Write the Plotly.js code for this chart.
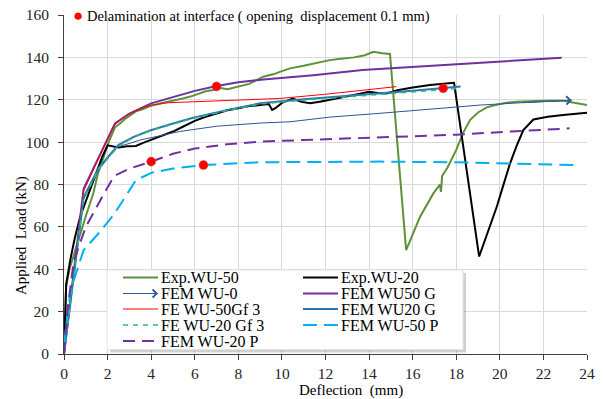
<!DOCTYPE html>
<html>
<head>
<meta charset="utf-8">
<script src="https://cdn.plot.ly/plotly-3.0.1.min.js"></script>
<style>html,body{margin:0;padding:0;background:#fff;}#chart{width:604px;height:399px;}</style>
</head>
<body>
<div id="chart"></div>
<script>
// ---- data (deflection mm, applied load kN) ----
const exp50X = [0,0.05,0.1,0.25,0.45,0.7,0.85,1.0,1.15,1.35,1.55,1.8,2.05,2.34,2.6,2.8,3.1,3.3,3.6,3.95,4.5,5.0,5.4,5.8,6.2,6.5,6.85,7.2,7.5,8.0,8.5,9.15,9.6,10.0,10.37,11.0,11.5,12.2,12.7,13.3,13.8,14.2,14.6,14.96,15.7,16.0,16.34,16.95,17.25,17.3,17.35,17.6,18.0,18.3,18.63,19.0,19.4,19.8,20.3,20.8,21.4,22.0,22.9,23.2,23.6,24.0];
const exp50Y = [0,20,32,40,47,56,60,65,70,76,85,93,100,107,109,111,113,114.5,115.5,117,118.5,119.5,120.5,121.5,123,124,124.6,125.5,125,126.2,127.5,130.9,132,133.5,134.8,136,137,138.7,139.3,140,141,142.6,142,141.6,49,56,64.8,75.8,80,76.5,84,88,96.3,104,110.4,114,116.4,117.5,118.6,119,119.4,119.5,119.5,119,118,117.5];

const exp20X = [0,0.05,0.1,0.3,0.5,0.75,1.0,1.25,1.5,1.75,2.0,2.2,2.5,2.9,3.3,3.6,4.0,4.5,5.0,5.5,6.0,6.5,7.0,7.5,8.0,8.5,9.0,9.4,9.55,9.7,10.0,10.5,10.9,11.3,11.8,12.2,12.8,13.3,14.0,14.4,14.8,15.3,16.0,16.8,17.4,17.9,19.05,19.4,19.86,20.2,20.47,20.8,21.08,21.54,22.2,22.9,23.5,24.0];
const exp20Y = [0,18,33,45,55,65,72,80,86,93,98.5,98,97.5,98,98.2,99.5,101,103,105,107.5,110,112,113.5,115,116,117,117.5,118,115.2,116,118.5,120.5,119,118.3,119.2,120,121,122.2,123.8,123.2,123,124.5,125.8,127,127.5,128,46,56,69.5,81,90,99,105.7,110.7,112,112.8,113.3,113.9];

const femWU0X = [0,0.9,1.6,2.4,3.5,5.3,7,9,10.37,12.2,14.5,17,19.1,21,23.3];
const femWU0Y = [0,73,87,97.5,101,105,107.5,109,109.6,111.8,113.6,115.8,117.5,118.6,119.8];

const femWU50GX = [0,0.9,2.34,3,4,5,6,7,8,9.15,11.44,13.7,15.4,18,20,22.84];
const femWU50GY = [0,78,108.8,113.5,118.3,121.4,124.2,126.5,128.3,129.6,131.6,134,135.1,136.8,138,139.8];

const feWU50GfX = [0,0.9,2.3,2.8,3.3,4,4.8,5.32,7,9,9.9,12,15.25];
const feWU50GfY = [0,77,108,112,115,117.5,118.6,118.8,119.5,120,120.6,122.6,126.2];

const femWU20GX = [0,0.9,1.6,2.49,3.2,3.95,5,5.93,7.47,9,11,13.6,16,18.2];
const femWU20GY = [0,74,88,98.6,102.5,105.5,108.8,111.5,115.1,118.3,120.2,122.2,124.2,126.2];

const feWU20GfX = [0,0.9,1.6,2.49,3.2,3.95,5,5.93,7.47,9,11,13.6,16,18.1];
const feWU20GfY = [0,73,87.5,98,102.3,105.3,108.5,111.2,114.8,118,119.8,121.8,123.6,125.3];

const femWU50PX = [0,0.3,0.9,1.65,2.3,3.3,4,5,6.4,9,14.5,18,23.4];
const femWU50PY = [5,30,49,57.7,66,82,85.5,87.5,89.2,90.5,90.8,90.5,89.2];

const femWU20PX = [0,0.15,0.45,1.0,1.8,2.3,3,4,5,6,7.5,9,11,13.6,16,18,20.5,23.2];
const femWU20PY = [0,20,44,60,75,84,87.5,90.8,94.5,97,99,100.2,101,101.8,102.8,103.5,105,106.5];

const delamX = [7.0, 4.0, 6.4, 17.4];
const delamY = [126.3, 90.8, 89.2, 125.4];

const seriesNames = ["Exp.WU-50","Exp.WU-20","FEM WU-0","FEM WU50 G","FE WU-50Gf 3","FEM WU20 G","FE WU-20 Gf 3","FEM WU-50 P","FEM WU-20 P"];
const noteText = "Delamination at interface ( opening&nbsp; displacement 0.1 mm)";
const xTitle = "Deflection&nbsp; (mm)";
const yTitle = "Applied&nbsp; Load (kN)";

// ---- styling ----
const FONT = "Liberation Serif";
const styles = [
  {color: "#5E9238", width: 2, dash: "solid"},
  {color: "#000000", width: 2, dash: "solid"},
  {color: "#2F5597", width: 1, dash: "solid"},
  {color: "#7030A0", width: 2, dash: "solid"},
  {color: "#FF0000", width: 1, dash: "solid"},
  {color: "#2E75B6", width: 2, dash: "solid"},
  {color: "#2DBE6C", width: 1.5, dash: "5px,5px"},
  {color: "#00B0F0", width: 2, dash: "14px,7px"},
  {color: "#7030A0", width: 2, dash: "12px,7px"}
];
const seriesX = [exp50X, exp20X, femWU0X, femWU50GX, feWU50GfX, femWU20GX, feWU20GfX, femWU50PX, femWU20PX];
const seriesY = [exp50Y, exp20Y, femWU0Y, femWU50GY, feWU50GfY, femWU20GY, feWU20GfY, femWU50PY, femWU20PY];

const traces = seriesNames.map((n, i) => ({
  x: seriesX[i], y: seriesY[i], name: n, type: "scatter", mode: "lines",
  line: Object.assign({}, styles[i]), hoverinfo: "skip", showlegend: false
}));
traces.push({x: delamX, y: delamY, type: "scatter", mode: "markers", name: "Delamination", showlegend: false, hoverinfo: "skip",
  marker: {color: "#FF0000", size: 9, line: {color: "#C0504D", width: 0.5}}});

// plot-area geometry (pixels) for placing the hand-laid legend and titles
const M = {l: 64, r: 17, t: 15, b: 45};
const PW = 604 - M.l - M.r, PH = 399 - M.t - M.b;
const px = v => (v - M.l) / PW;
const py = v => (399 - M.b - v) / PH;

const shapes = [], annotations = [];
// legend box + shadow
shapes.push({type: "rect", xref: "paper", yref: "paper", layer: "above",
  x0: px(110), x1: px(466), y0: py(273), y1: py(352.5), fillcolor: "rgba(120,120,120,0.35)", line: {width: 0}});
shapes.push({type: "rect", xref: "paper", yref: "paper", layer: "above",
  x0: px(107), x1: px(463), y0: py(270), y1: py(349.5), fillcolor: "#FFFFFF", line: {color: "#E3E3E3", width: 1}});

const legendOrder = [0, 1, 2, 3, 4, 5, 6, 7, 8]; // row-major, two columns
const colSample = [123, 303], colText = [159, 339];
const rowY = [277.5, 293.5, 309, 325, 341];
legendOrder.forEach((s, k) => {
  const c = k % 2, r = Math.floor(k / 2);
  const yy = py(rowY[r]);
  shapes.push({type: "line", xref: "paper", yref: "paper", layer: "above",
    x0: px(colSample[c]), x1: px(colSample[c] + 35), y0: yy, y1: yy,
    line: {color: styles[s].color, width: styles[s].width, dash: styles[s].dash}});
  annotations.push({xref: "paper", yref: "paper", x: px(colText[c]), y: yy, xanchor: "left", yanchor: "middle",
    showarrow: false, text: seriesNames[s], font: {family: FONT, size: 16, color: "#000"}});
  if (s === 2) {
    annotations.push({xref: "paper", yref: "paper", x: px(colSample[c] + 35), y: yy,
      ax: -12, ay: 0, showarrow: true, arrowhead: 4, arrowsize: 1.6, arrowwidth: 1,
      arrowcolor: styles[s].color, text: ""});
  }
});
// arrowhead at the end of FEM WU-0
const n0 = femWU0X.length - 1;
annotations.push({xref: "x", yref: "y", axref: "x", ayref: "y",
  x: femWU0X[n0], y: femWU0Y[n0], ax: femWU0X[n0 - 1], ay: femWU0Y[n0 - 1],
  showarrow: true, arrowhead: 4, arrowsize: 1.6, arrowwidth: 1, arrowcolor: styles[2].color, text: ""});
// delamination note
annotations.push({xref: "paper", yref: "paper", x: px(71), y: py(15), xanchor: "left", yanchor: "middle",
  showarrow: false, align: "left",
  text: '<span style="color:#FF0000;font-size:17px">●</span> ' + noteText,
  font: {family: FONT, size: 14.5, color: "#000"}});
// axis titles (placed as in the original, off-centre)
annotations.push({xref: "paper", yref: "paper", x: px(351), y: py(390), xanchor: "center", yanchor: "middle",
  showarrow: false, borderpad: 0, text: xTitle, font: {family: FONT, size: 15, color: "#000"}});
annotations.push({xref: "paper", yref: "paper", x: px(21), y: py(236), xanchor: "center", yanchor: "middle",
  showarrow: false, textangle: -90, text: yTitle, font: {family: FONT, size: 15, color: "#000"}});

const axisCommon = {
  showgrid: true, gridcolor: "#D9D9D9", gridwidth: 1,
  showline: true, linecolor: "#404040", linewidth: 1,
  ticks: "outside", ticklen: 5, tickcolor: "#404040",
  zeroline: false, tickfont: {family: FONT, size: 15.5, color: "#262626"}
};

const layout = {
  width: 604, height: 399,
  margin: M,
  paper_bgcolor: "#FFFFFF", plot_bgcolor: "#FFFFFF",
  font: {family: FONT, color: "#262626"},
  showlegend: false,
  xaxis: Object.assign({}, axisCommon, {range: [0, 24], dtick: 2, tick0: 0}),
  yaxis: Object.assign({}, axisCommon, {range: [0, 160], dtick: 20, tick0: 0, ticklabelstandoff: 6}),
  shapes: shapes,
  annotations: annotations
};

Plotly.newPlot("chart", traces, layout, {staticPlot: true, displayModeBar: false});
</script>
</body>
</html>
